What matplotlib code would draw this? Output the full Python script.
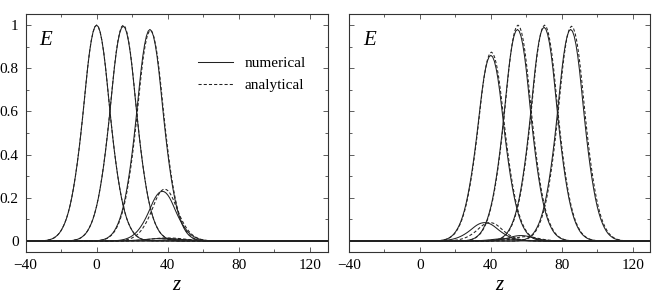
import matplotlib

matplotlib.use("Agg")

import matplotlib.pyplot as plt
import numpy as np
from matplotlib.ticker import MultipleLocator

HALF_OFFSET  = np.arange(0, 33)
HALF_PROFILE = [1.000, 0.992, 0.968, 0.928, 0.874, 0.806, 0.727, 0.644, 0.563, 0.487,
                0.417, 0.353, 0.296, 0.245, 0.200, 0.162, 0.130, 0.103, 0.081, 0.063,
                0.048, 0.036, 0.027, 0.020, 0.014, 0.010, 0.007, 0.005, 0.003, 0.002,
                0.001, 0.0005, 0.0]

# left panel pulses
LEFT_NUM_CENTERS  = [0.0, 15.0, 30.0, 37.0, 38.0, 45.0]
LEFT_NUM_PEAKS    = [1.0, 0.995, 0.98, 0.23, 0.012, 0.006]
LEFT_NUM_WIDTHS   = [1.0, 1.0, 1.0, 1.0, 1.3, 1.1]
LEFT_ANA_CENTERS  = [0.0, 15.0, 30.3, 38.3, 40.0, 46.0]
LEFT_ANA_PEAKS    = [1.0, 1.0, 0.975, 0.24, 0.014, 0.006]
LEFT_ANA_WIDTHS   = [1.0, 1.0, 1.0, 0.95, 1.3, 1.1]

# right panel pulses
RIGHT_NUM_CENTERS = [40.0, 55.0, 70.0, 85.0, 36.5, 57.0, 47.0]
RIGHT_NUM_PEAKS   = [0.86, 0.98, 0.99, 0.98, 0.085, 0.025, 0.01]
RIGHT_NUM_WIDTHS  = [1.0, 1.0, 1.0, 1.0, 1.05, 0.9, 0.9]
RIGHT_ANA_CENTERS = [40.3, 55.3, 70.3, 85.5, 39.5, 60.0, 50.0]
RIGHT_ANA_PEAKS   = [0.875, 1.0, 1.0, 0.995, 0.085, 0.02, 0.01]
RIGHT_ANA_WIDTHS  = [1.0, 1.0, 1.0, 1.0, 0.95, 0.9, 0.9]

Z_TICKS = [-40, 0, 40, 80, 120]
E_TICKS = [0, 0.2, 0.4, 0.6, 0.8, 1]
E_TICK_LABELS = ["0", "0.2", "0.4", "0.6", "0.8", "1"]

plt.rcParams.update({
    "font.family"     : ["Liberation Serif", "DejaVu Serif"],
    "mathtext.fontset": "custom",
    "mathtext.it"     : "Liberation Serif:italic",
    "axes.linewidth"  : 0.8,
    "axes.edgecolor"  : "#333333",
})

INK = "#222222"
offset  = np.concatenate([-HALF_OFFSET[:0:-1], HALF_OFFSET])
profile = np.concatenate([np.array(HALF_PROFILE)[:0:-1], HALF_PROFILE])


def pulse(center, peak, width):
    z = np.concatenate([[-45.0], center + width * offset, [135.0]])
    e = np.concatenate([[0.0], peak * profile, [0.0]])
    return z, e


def draw(axis, centers, peaks, widths, style, label):
    for index, (c, p, w) in enumerate(zip(centers, peaks, widths)):
        z, e = pulse(c, p, w)
        axis.plot(z, e, color=INK, linewidth=0.75, linestyle=style,
                  label=label if index == 0 else None)


figure = plt.figure(figsize=(6.54, 2.99), dpi=100)
left   = figure.add_axes([0.039, 0.158, 0.462, 0.794])
right  = figure.add_axes([0.5336, 0.158, 0.461, 0.794])

draw(left, LEFT_NUM_CENTERS, LEFT_NUM_PEAKS, LEFT_NUM_WIDTHS, "-", "numerical")
draw(left, LEFT_ANA_CENTERS, LEFT_ANA_PEAKS, LEFT_ANA_WIDTHS, (0, (3, 2)), "analytical")
draw(right, RIGHT_NUM_CENTERS, RIGHT_NUM_PEAKS, RIGHT_NUM_WIDTHS, "-", None)
draw(right, RIGHT_ANA_CENTERS, RIGHT_ANA_PEAKS, RIGHT_ANA_WIDTHS, (0, (3, 2)), None)

for axis in (left, right):
    axis.axhline(0.0, color="#888888", linewidth=1.3, zorder=1)
    axis.set_xlim(-39.5, 130)
    axis.set_ylim(-0.05, 1.05)
    axis.set_xticks(Z_TICKS)
    axis.set_yticks(E_TICKS)
    axis.xaxis.set_minor_locator(MultipleLocator(20))
    axis.yaxis.set_minor_locator(MultipleLocator(0.1))
    axis.tick_params(which="both", direction="in", top=True, right=True,
                     labelsize=11, width=0.6, color="#444444", pad=5)
    axis.tick_params(which="major", length=3.5)
    axis.tick_params(which="minor", length=2.5)
    axis.set_xlabel("$z$", fontsize=15, labelpad=3)
    axis.text(0.045, 0.89, "$E$", transform=axis.transAxes, fontsize=15,
              ha="left", va="center")

left.set_yticklabels(E_TICK_LABELS)
right.set_yticklabels([])

left.legend(loc="upper left", bbox_to_anchor=(0.572, 0.822), frameon=False,
            fontsize=11, handlelength=2.3, handletextpad=0.75, labelspacing=0.55,
            borderpad=0, borderaxespad=0)

figure.savefig("out.png", dpi=100)
